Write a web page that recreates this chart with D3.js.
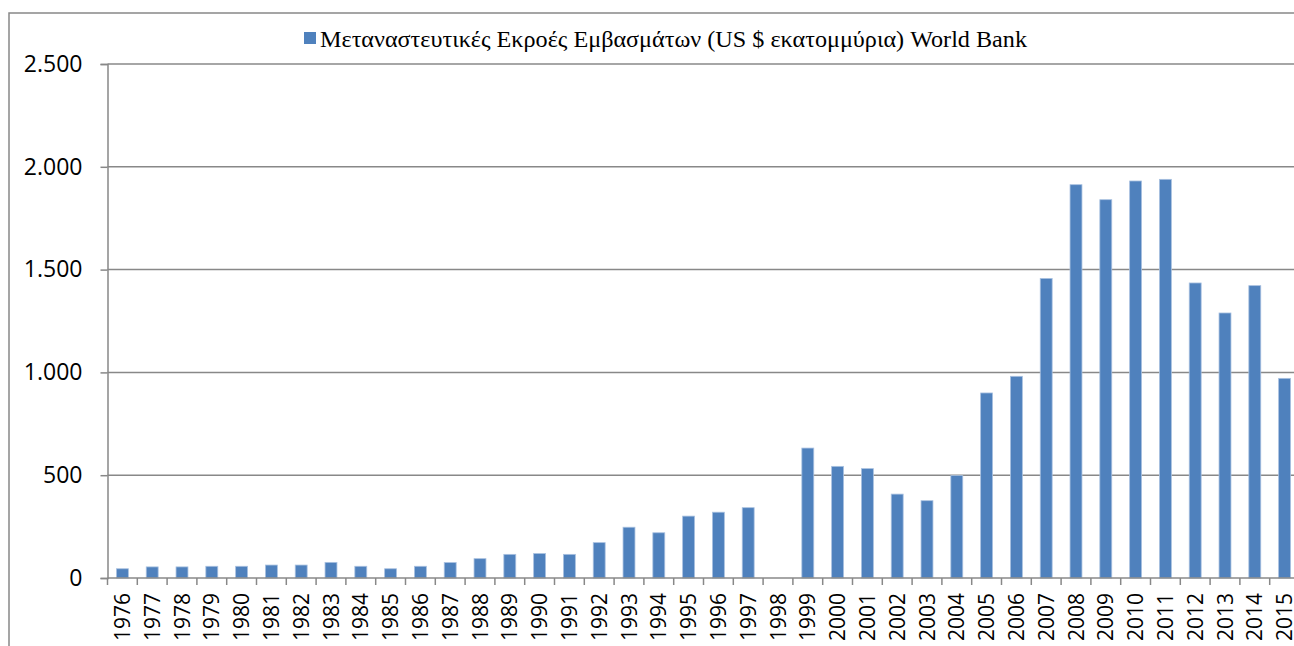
<!DOCTYPE html>
<html>
<head>
<meta charset="utf-8">
<style>
  body { margin: 0; background: #fff; }
  .tick-label { font-family: "Open Sans"; fill: #000; }
  .legend-text { font-family: "Liberation Serif"; font-size: 23px; fill: #000; }
</style>
</head>
<body>
<svg width="1294" height="646"></svg>
<script src="https://d3js.org/d3.v7.min.js"></script>
<script>
var years = ["1976","1977","1978","1979","1980","1981","1982","1983","1984","1985",
  "1986","1987","1988","1989","1990","1991","1992","1993","1994","1995",
  "1996","1997","1998","1999","2000","2001","2002","2003","2004","2005",
  "2006","2007","2008","2009","2010","2011","2012","2013","2014","2015"];
var outflows = [45, 54, 54, 57, 57, 63, 63, 76, 57, 45,
  57, 75, 94, 115, 119, 115, 172, 247, 220, 301,
  320, 342, null, 632, 543, 532, 408, 376, 498, 900,
  981, 1457, 1913, 1840, 1931, 1939, 1435, 1289, 1422, 971];
var yTicks = [0, 500, 1000, 1500, 2000, 2500];
var seriesName = "Μεταναστευτικές Εκροές Εμβασμάτων (US $ εκατομμύρια) World Bank";

var svg = d3.select("svg");
var margin = {top: 64, left: 107.5, bottom: 578, right: 1299.5};
var grey = "#888888";

var x = d3.scaleBand().domain(years).range([margin.left, margin.right])
  .paddingInner(0.6).paddingOuter(0.3);
var y = d3.scaleLinear().domain([0, 2500]).range([margin.bottom, margin.top]);
var step = x.step();

// outer frame (right and bottom fall outside the picture)
svg.append("rect")
  .attr("x", 9).attr("y", 13)
  .attr("width", 1400).attr("height", 700)
  .attr("fill", "none").attr("stroke", grey).attr("stroke-width", 1.5);

// gridlines
svg.append("g").selectAll("line")
  .data(yTicks.filter(function(d) { return d > 0; }))
  .enter().append("line")
  .attr("x1", margin.left).attr("x2", 1300)
  .attr("y1", function(d) { return y(d); })
  .attr("y2", function(d) { return y(d); })
  .attr("stroke", grey).attr("stroke-width", 1.5);

// y axis
var yAxis = svg.append("g")
  .attr("transform", "translate(" + margin.left + ",0)")
  .call(d3.axisLeft(y).tickValues(yTicks).tickSize(7).tickPadding(18)
    .tickFormat(function(d) { return d3.format(",")(d).replace(/,/g, "."); }));
yAxis.select(".domain").attr("stroke", grey).attr("stroke-width", 1.5);
yAxis.selectAll(".tick line").attr("stroke", grey).attr("stroke-width", 1.5);
yAxis.selectAll(".tick text")
  .attr("class", "tick-label")
  .style("font-size", "23px")
  .attr("fill", "#000");

// bars
svg.append("g").selectAll("rect")
  .data(years.map(function(d, i) { return {year: d, value: outflows[i]}; })
    .filter(function(d) { return d.value != null; }))
  .enter().append("rect")
  .attr("x", function(d) { return x(d.year); })
  .attr("width", x.bandwidth())
  .attr("y", function(d) { return y(d.value); })
  .attr("height", function(d) { return y(0) - y(d.value); })
  .attr("fill", "#4f81bd")
  .attr("stroke", "#a9c1e0").attr("stroke-width", 0.8);

// x axis baseline and ticks at category boundaries
var xAxis = svg.append("g");
xAxis.append("line")
  .attr("x1", margin.left).attr("x2", 1300)
  .attr("y1", y(0)).attr("y2", y(0))
  .attr("stroke", grey).attr("stroke-width", 1.5);
xAxis.selectAll(".xt")
  .data(years)
  .enter().append("line")
  .attr("x1", function(d) { return x(d) - step * 0.3; })
  .attr("x2", function(d) { return x(d) - step * 0.3; })
  .attr("y1", y(0)).attr("y2", y(0) + 7)
  .attr("stroke", grey).attr("stroke-width", 1.5);
xAxis.selectAll(".xl")
  .data(years)
  .enter().append("text")
  .attr("class", "tick-label")
  .style("font-size", "21px")
  .attr("text-anchor", "end")
  .attr("transform", function(d) {
    return "translate(" + (x(d) + x.bandwidth() / 2 + 7.5) + "," + (y(0) + 15) + ") rotate(-90)";
  })
  .text(function(d) { return d; });

// legend
var legend = svg.append("g");
legend.append("rect")
  .attr("x", 304).attr("y", 32)
  .attr("width", 12).attr("height", 12)
  .attr("fill", "#4f81bd");
legend.append("text")
  .attr("class", "legend-text")
  .attr("x", 320).attr("y", 47)
  .attr("textLength", 707)
  .attr("lengthAdjust", "spacingAndGlyphs")
  .text(seriesName);
</script>
</body>
</html>
